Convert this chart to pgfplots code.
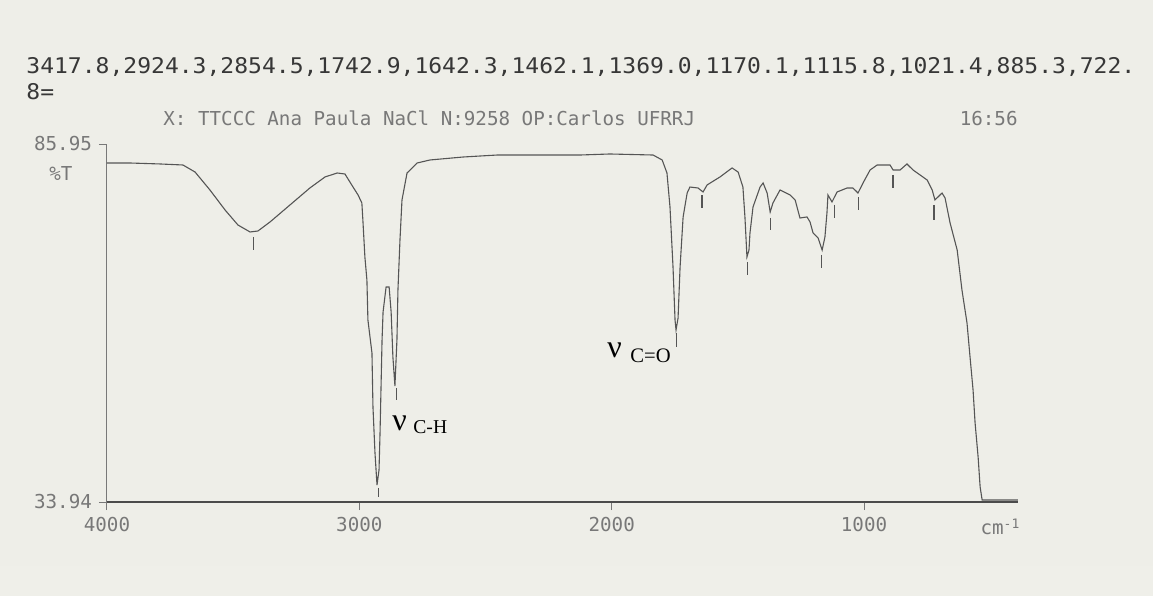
\documentclass[border=0pt]{standalone}
\usepackage{pgfplots}
\pgfplotsset{compat=1.18}
\usepackage{fontspec}
\setmainfont{Liberation Serif}
\newfontfamily\topfont[FakeStretch=1.066]{DejaVu Sans Mono}
\newfontfamily\dotfont{DejaVu Sans Mono}
\definecolor{bg}{RGB}{238,238,232}
\definecolor{ink}{RGB}{55,55,55}
\definecolor{dotgray}{RGB}{120,120,120}
\definecolor{curve}{RGB}{85,85,85}
\definecolor{axisdark}{RGB}{75,75,75}
\begin{document}
\begin{tikzpicture}[x=1pt,y=1pt]
\fill[bg] (0,0) rectangle (576.5,298);
\fill[bg!96!white] (0,0) rectangle (576.5,15);
\begin{axis}[
  at={(53.5pt,47pt)}, anchor=south west,
  scale only axis, width=455.5pt, height=179pt,
  x dir=reverse, xmin=390, xmax=4000, ymin=33.94, ymax=85.95,
  axis x line*=bottom, axis y line*=left,
  x axis line style={axisdark, line width=1.2pt},
  y axis line style={dotgray, line width=0.5pt},
  xtick={4000,3000,2000,1000}, xticklabels={4000,3000,2000,1000},
  ytick={33.94,85.95}, yticklabels={33.94,85.95},
  tick align=outside, major tick length=4pt,
  tick style={dotgray, line width=0.5pt},
  ticklabel style={font=\fontsize{9.6}{10}\dotfont, text=dotgray},
  clip=false,
]
\addplot[curve, line width=0.55pt] table {
4000 83.19
3909 83.19
3790 83.05
3699 82.90
3651 81.88
3592 79.27
3532 76.36
3481 74.18
3433 73.17
3402 73.31
3354 74.62
3275 77.09
3196 79.56
3136 81.16
3088 81.74
3057 81.59
3025 79.70
3005 78.54
2990 77.38
2986 74.91
2978 69.54
2970 66.19
2966 60.38
2950 55.59
2946 47.74
2938 41.06
2930 36.41
2922 38.59
2918 43.96
2910 57.48
2906 61.54
2894 65.18
2882 65.18
2874 61.54
2867 55.01
2859 50.79
2851 57.48
2847 64.74
2839 72.00
2831 77.82
2811 81.74
2771 83.19
2720 83.63
2589 84.06
2454 84.35
2324 84.35
2126 84.35
2007 84.50
1836 84.35
1800 83.63
1781 81.74
1769 76.80
1757 68.08
1749 60.38
1745 58.93
1737 60.67
1729 68.08
1717 75.35
1701 78.83
1690 79.70
1658 79.56
1638 78.98
1622 80.00
1571 81.16
1523 82.47
1499 81.88
1480 79.70
1472 75.35
1464 69.54
1456 70.55
1452 73.02
1440 76.80
1412 79.70
1400 80.29
1384 78.83
1372 76.07
1361 77.38
1333 79.27
1293 78.54
1273 77.82
1254 75.20
1226 75.35
1214 74.62
1202 73.02
1182 72.30
1166 70.55
1155 72.44
1147 75.93
1143 78.54
1127 77.53
1107 78.98
1067 79.56
1044 79.56
1024 78.83
1004 80.29
976 82.18
948 82.90
897 82.90
885 82.18
857 82.18
830 83.05
806 82.18
750 80.72
730 79.27
719 77.82
691 78.83
679 78.11
659 74.47
631 70.55
612 64.74
592 59.95
580 55.01
568 50.21
560 45.42
548 40.48
540 36.12
532 34.23
390 34.23
};
\addplot[curve, line width=0.55pt, unbounded coords=jump] coordinates {
(3417.8,72.44) (3417.8,70.55) (3417.8,nan)
(2924.3,36.0) (2924.3,34.6) (2924.3,nan)
(2854.5,50.50) (2854.5,48.76) (2854.5,nan)
(1742.9,58.49) (1742.9,56.46) (1742.9,nan)
(1642.3,78.54) (1642.3,76.65) (1642.3,nan)
(1462.1,68.81) (1462.1,66.92) (1462.1,nan)
(1369.0,75.20) (1369.0,73.46) (1369.0,nan)
(1170.1,69.83) (1170.1,67.94) (1170.1,nan)
(1115.8,77.09) (1115.8,75.20) (1115.8,nan)
(1021.4,78.25) (1021.4,76.36) (1021.4,nan)
(885.3,81.45) (885.3,79.56) (885.3,nan)
(722.8,77.09) (722.8,74.91)
};
\end{axis}
\node[anchor=base west, inner sep=0, text=ink, font=\fontsize{10.8}{12}\topfont] at (13,261)
  {3417.8,2924.3,2854.5,1742.9,1642.3,1462.1,1369.0,1170.1,1115.8,1021.4,885.3,722.};
\node[anchor=base west, inner sep=0, text=ink, font=\fontsize{10.8}{12}\topfont] at (13,248) {8=};
\node[anchor=base west, inner sep=0, text=dotgray, font=\fontsize{9.6}{10}\dotfont] at (81.5,235)
  {X: TTCCC Ana Paula NaCl N:9258 OP:Carlos UFRRJ};
\node[anchor=base east, inner sep=0, text=dotgray, font=\fontsize{9.6}{10}\dotfont] at (509,235) {16:56};
\node[anchor=center, inner sep=0, text=dotgray, font=\fontsize{9.6}{10}\dotfont] at (30.5,211) {\%T};
\node[anchor=center, inner sep=0, text=dotgray, font=\fontsize{9.6}{10}\dotfont] at (500,34.5) {cm\raisebox{0.5ex}{\fontsize{6.5}{7}\selectfont -1}};
\node[anchor=base west, inner sep=0, font=\fontsize{16}{16}\selectfont] at (196,83) {ν};
\node[anchor=base west, inner sep=0, font=\fontsize{9.8}{10}\selectfont] at (206.5,81.5) {C-H};
\node[anchor=base west, inner sep=0, font=\fontsize{16}{16}\selectfont] at (303.5,119.5) {ν};
\node[anchor=base west, inner sep=0, font=\fontsize{10.3}{11}\selectfont] at (315,117) {C=O};
\end{tikzpicture}
\end{document}
